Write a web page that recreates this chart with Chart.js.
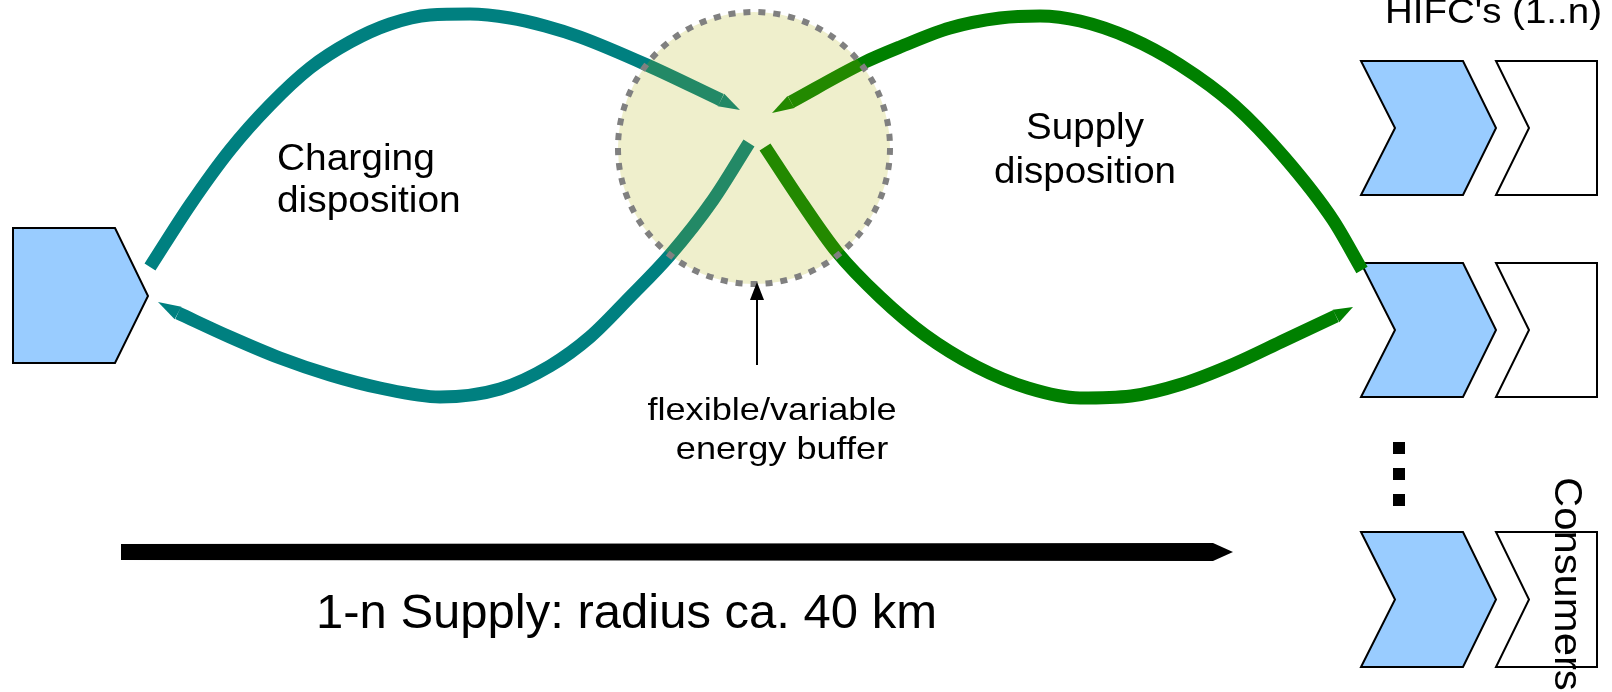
<!DOCTYPE html>
<html>
<head>
<meta charset="utf-8">
<script src="https://cdn.jsdelivr.net/npm/chart.js@4.4.1/dist/chart.umd.min.js"></script>
<style>
    html, body { margin: 0; padding: 0; background: #ffffff; overflow: hidden; }
    #wrap { width: 1612px; height: 692px; }
</style>
</head>
<body>
<div id="wrap"><canvas id="diagram" width="1612" height="692"></canvas></div>
<script>
// ==================== ДАННЫЕ ====================

// charging disposition (teal), outgoing upper arc and returning lower arc
const chargeOutX = [150, 190, 230, 270, 310, 350, 390, 430, 470, 510, 545, 580, 647, 721];
const chargeOutY = [267, 205, 150, 105, 68, 42, 24, 15, 14, 18, 26, 37, 65, 100];
const chargeInX = [178, 230, 280, 330, 380, 440, 500, 550, 590, 630, 670, 713, 749];
const chargeInY = [313, 337, 358, 375, 388, 397, 389, 366, 337, 297, 255, 200, 143];

// supply disposition (green)
const supplyOutX = [791, 863, 900, 950, 1000, 1040, 1080, 1130, 1180, 1234, 1285, 1333, 1362];
const supplyOutY = [102, 63, 47, 28, 18, 16, 21, 38, 65, 105, 158, 220, 270];
const supplyInX = [765, 800, 837, 880, 925, 977, 1028, 1080, 1131, 1182, 1234, 1285, 1336];
const supplyInY = [147, 200, 252, 297, 335, 367, 388, 398, 396, 384, 364, 340, 316];

// arrow tips of the arcs
const tipX = [740, 158, 772, 1353];
const tipY = [110, 302, 113, 307];

// energy buffer
const bufferCenter = [754, 148];
const bufferRadius = 136;

// source block (left)
const sourceX = [13, 115, 148, 115, 13];
const sourceY = [228, 228, 296, 363, 363];

// HIFC rows (right)
const rowTop = [61, 263, 532];
const rowBottom = [195, 397, 667];
const chevronX = [1361, 1463, 1496, 1463, 1361, 1395];
const consumerX = [1496, 1597, 1597, 1496, 1529];
const dotsY = [448, 474, 500];

// labels
const labelCharging = ['Charging', 'disposition'];
const labelSupply = ['Supply', 'disposition'];
const labelBuffer = ['flexible/variable', 'energy buffer'];
const labelRadius = '1-n Supply: radius ca. 40 km';
const labelHifc = "HIFC's (1..n)";
const labelConsumers = 'Consumers';

// ==================== РИСОВАНИЕ ====================

const TEAL = '#008080';
const GREEN = '#008000';
const BLUE = '#99ccff';
const FONT = "'Liberation Sans', Arial, sans-serif";

function zipPoints(xs, ys) {
    return xs.map((x, i) => ({ x: x, y: ys[i] }));
}

function arcDataset(xs, ys, color) {
    return {
        data: zipPoints(xs, ys),
        showLine: true,
        borderColor: color,
        borderWidth: 13,
        borderCapStyle: 'butt',
        cubicInterpolationMode: 'monotone',
        pointRadius: 0,
        fill: false
    };
}

function polygon(ctx, chart, xs, ys, fill, stroke) {
    const sx = chart.scales.x, sy = chart.scales.y;
    ctx.beginPath();
    xs.forEach((x, i) => {
        const px = sx.getPixelForValue(x), py = sy.getPixelForValue(ys[i]);
        if (i === 0) ctx.moveTo(px, py); else ctx.lineTo(px, py);
    });
    ctx.closePath();
    if (fill) { ctx.fillStyle = fill; ctx.fill(); }
    if (stroke) { ctx.strokeStyle = stroke; ctx.lineWidth = 2; ctx.lineJoin = 'miter'; ctx.stroke(); }
}

function label(ctx, chart, text, x, y, size, stretch, align) {
    const sx = chart.scales.x, sy = chart.scales.y;
    ctx.save();
    ctx.translate(sx.getPixelForValue(x), sy.getPixelForValue(y));
    ctx.scale(stretch, 1);
    ctx.font = size + 'px ' + FONT;
    ctx.fillStyle = '#000000';
    ctx.textAlign = align || 'left';
    ctx.textBaseline = 'alphabetic';
    ctx.fillText(text, 0, 0);
    ctx.restore();
}

// наконечник стрелки: от последней точки дуги к острию
function arrowHead(ctx, chart, bx, by, tx, ty, color) {
    const sx = chart.scales.x, sy = chart.scales.y;
    const x0 = sx.getPixelForValue(bx), y0 = sy.getPixelForValue(by);
    const x1 = sx.getPixelForValue(tx), y1 = sy.getPixelForValue(ty);
    const len = Math.hypot(x1 - x0, y1 - y0);
    const nx = -(y1 - y0) / len, ny = (x1 - x0) / len;
    const hw = 7;
    ctx.beginPath();
    ctx.moveTo(x0 + nx * hw, y0 + ny * hw);
    ctx.lineTo(x1, y1);
    ctx.lineTo(x0 - nx * hw, y0 - ny * hw);
    ctx.closePath();
    ctx.fillStyle = color;
    ctx.fill();
}

const diagramPlugin = {
    id: 'diagram',
    beforeDatasetsDraw(chart) {
        const ctx = chart.ctx;
        const sx = chart.scales.x, sy = chart.scales.y;
        ctx.save();

        polygon(ctx, chart, sourceX, sourceY, BLUE, '#000000');

        rowTop.forEach((top, i) => {
            const bot = rowBottom[i];
            const mid = (top + bot) / 2;
            polygon(ctx, chart, chevronX, [top, top, mid, bot, bot, mid], BLUE, '#000000');
            polygon(ctx, chart, consumerX, [top, top, bot, bot, mid], '#ffffff', '#000000');
        });

        // три точки
        ctx.fillStyle = '#000000';
        dotsY.forEach(y => {
            ctx.fillRect(sx.getPixelForValue(1399) - 6, sy.getPixelForValue(y) - 6, 12, 12);
        });

        // стрелка радиуса снабжения
        polygon(ctx, chart, [121, 1213, 1233, 1213, 121], [544, 543, 552, 561, 560], '#000000', null);

        ctx.restore();
    },
    afterDatasetsDraw(chart) {
        const ctx = chart.ctx;
        const sx = chart.scales.x, sy = chart.scales.y;
        ctx.save();

        arrowHead(ctx, chart, chargeOutX[chargeOutX.length - 1], chargeOutY[chargeOutY.length - 1], tipX[0], tipY[0], TEAL);
        arrowHead(ctx, chart, chargeInX[0], chargeInY[0], tipX[1], tipY[1], TEAL);
        arrowHead(ctx, chart, supplyOutX[0], supplyOutY[0], tipX[2], tipY[2], GREEN);
        arrowHead(ctx, chart, supplyInX[supplyInX.length - 1], supplyInY[supplyInY.length - 1], tipX[3], tipY[3], GREEN);

        // буфер энергии
        const cx = sx.getPixelForValue(bufferCenter[0]);
        const cy = sy.getPixelForValue(bufferCenter[1]);
        const r = sx.getPixelForValue(bufferCenter[0] + bufferRadius) - cx;
        ctx.beginPath();
        ctx.arc(cx, cy, r, 0, Math.PI * 2);
        ctx.fillStyle = 'rgba(175, 175, 0, 0.2)';
        ctx.fill();
        ctx.setLineDash([7, 8]);
        ctx.lineWidth = 6;
        ctx.strokeStyle = '#808080';
        ctx.stroke();
        ctx.setLineDash([]);

        // стрелка к буферу
        ctx.beginPath();
        ctx.moveTo(sx.getPixelForValue(757), sy.getPixelForValue(365));
        ctx.lineTo(sx.getPixelForValue(757), sy.getPixelForValue(298));
        ctx.lineWidth = 2;
        ctx.strokeStyle = '#000000';
        ctx.stroke();
        polygon(ctx, chart, [757, 764, 750], [282, 300, 300], '#000000', null);

        // подписи
        label(ctx, chart, labelCharging[0], 277, 170, 36, 1.08, 'left');
        label(ctx, chart, labelCharging[1], 277, 212, 36, 1.08, 'left');
        label(ctx, chart, labelSupply[0], 1085, 139, 36, 1.07, 'center');
        label(ctx, chart, labelSupply[1], 1085, 183, 36, 1.07, 'center');
        label(ctx, chart, labelBuffer[0], 772, 420, 32, 1.13, 'center');
        label(ctx, chart, labelBuffer[1], 782, 459, 32, 1.13, 'center');
        label(ctx, chart, labelRadius, 316, 628, 49, 1.0, 'left');
        label(ctx, chart, labelHifc, 1385, 23, 35, 1.1, 'left');

        // вертикальная подпись
        ctx.save();
        ctx.translate(sx.getPixelForValue(1555), sy.getPixelForValue(477));
        ctx.rotate(Math.PI / 2);
        ctx.scale(1.1, 1);
        ctx.font = '38px ' + FONT;
        ctx.fillStyle = '#000000';
        ctx.textAlign = 'left';
        ctx.textBaseline = 'alphabetic';
        ctx.fillText(labelConsumers, 0, 0);
        ctx.restore();

        ctx.restore();
    }
};

new Chart(document.getElementById('diagram'), {
    type: 'scatter',
    data: {
        datasets: [
            arcDataset(chargeOutX, chargeOutY, TEAL),
            arcDataset(chargeInX, chargeInY, TEAL),
            arcDataset(supplyOutX, supplyOutY, GREEN),
            arcDataset(supplyInX, supplyInY, GREEN)
        ]
    },
    options: {
        responsive: false,
        animation: false,
        devicePixelRatio: 1,
        layout: { padding: 0 },
        scales: {
            x: { type: 'linear', min: 0, max: 1612, display: false },
            y: { type: 'linear', min: 0, max: 692, reverse: true, display: false }
        },
        plugins: {
            legend: { display: false },
            tooltip: { enabled: false }
        }
    },
    plugins: [diagramPlugin]
});
</script>
</body>
</html>
